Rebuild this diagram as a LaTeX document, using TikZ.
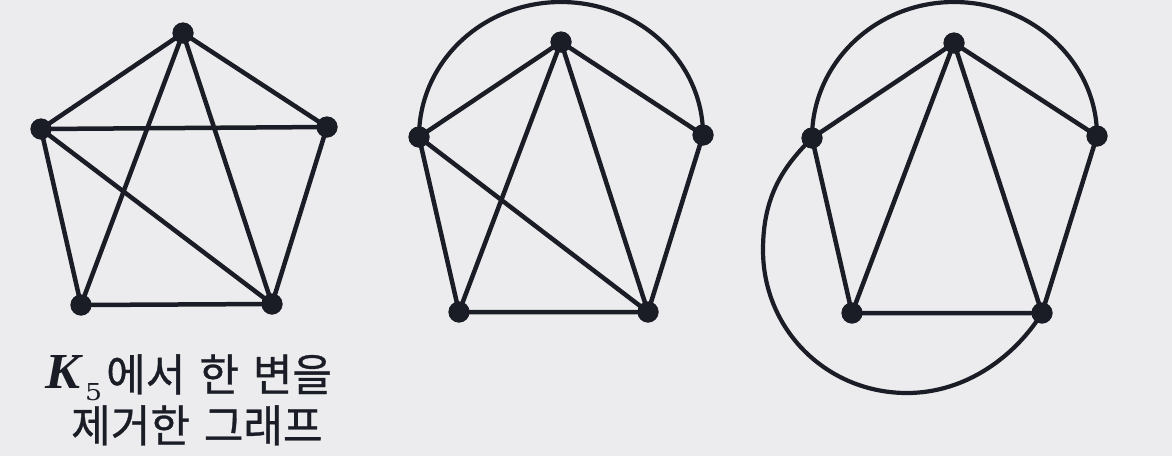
\documentclass[tikz,border=0pt]{standalone}
\usepackage{fontspec}
\setmainfont{Liberation Serif}
\newfontfamily\kr[FakeBold=0.7]{Noto Sans CJK KR}
\newfontfamily\dvs{DejaVu Serif}
\definecolor{bgcol}{HTML}{ECECEE}
\definecolor{ink}{HTML}{1B1D26}
\newcommand{\wsp}{\hspace{14pt}}
\begin{document}
\begin{tikzpicture}[x=1pt,y=-1pt,
  vtx/.style={circle,fill=ink,draw=none,minimum size=21pt,inner sep=0pt},
  edge/.style={draw=ink,line width=4.5pt,line cap=round},
  curve/.style={draw=ink,line width=4.2pt,line cap=round},
  lbl/.style={anchor=base west,inner sep=0pt,text=ink,text height=30pt,font=\kr\fontsize{43}{50}\selectfont}]
\fill[bgcol] (0,0) rectangle (1172,456);
\useasboundingbox (0,0) rectangle (1172,456);
% ---- graph 1 ----
\node[vtx] (t1) at (183,33) {};
\node[vtx] (l1) at (41,129) {};
\node[vtx] (r1) at (327,127) {};
\node[vtx] (a1) at (81,305) {};
\node[vtx] (b1) at (272,304) {};
\path[edge] (t1.center) -- (l1.center) (t1.center) -- (r1.center) (l1.center) -- (r1.center)
  (l1.center) -- (a1.center) (r1.center) -- (b1.center) (a1.center) -- (b1.center)
  (t1.center) -- (a1.center) (t1.center) -- (b1.center) (l1.center) -- (b1.center);
% ---- graph 2 ----
\node[vtx] (t2) at (561,42) {};
\node[vtx] (l2) at (419,137) {};
\node[vtx] (r2) at (703,135) {};
\node[vtx] (a2) at (459,312) {};
\node[vtx] (b2) at (648,312) {};
\coordinate (c2) at (561,2);
\path[edge] (t2.center) -- (l2.center) (t2.center) -- (r2.center)
  (l2.center) -- (a2.center) (r2.center) -- (b2.center) (a2.center) -- (b2.center)
  (t2.center) -- (a2.center) (t2.center) -- (b2.center) (l2.center) -- (b2.center);
\path[curve] (l2.center) .. controls (419,62) and (482.6,2) .. (c2)
  .. controls (639.4,2) and (703,62) .. (r2.center);
% ---- graph 3 ----
\node[vtx] (t3) at (954,43) {};
\node[vtx] (l3) at (812,138) {};
\node[vtx] (r3) at (1097,136) {};
\node[vtx] (a3) at (852,313) {};
\node[vtx] (b3) at (1042,313) {};
\coordinate (c3) at (954,2);
\coordinate (w3) at (763,250);
\coordinate (d3) at (907,393);
\path[edge] (t3.center) -- (l3.center) (t3.center) -- (r3.center)
  (l3.center) -- (a3.center) (r3.center) -- (b3.center) (a3.center) -- (b3.center)
  (t3.center) -- (a3.center) (t3.center) -- (b3.center);
\path[curve] (l3.center) .. controls (812,63) and (875.6,2) .. (c3)
  .. controls (1033.4,2) and (1097,63) .. (r3.center);
\path[curve] (l3.center) .. controls (784,166) and (763,195) .. (w3)
  .. controls (763,330) and (827,393) .. (d3)
  .. controls (967,393) and (1016,355) .. (b3.center);
% vertices on top
\foreach \v in {t1,l1,r1,a1,b1,t2,l2,r2,a2,b2,t3,l3,r3,a3,b3}
  \fill[ink] (\v.center) circle[radius=10.5pt];
% ---- label ----
\node[anchor=base west,inner sep=0pt,text=ink] (kK) at (45,388)
  {\resizebox{35pt}{33pt}{\bfseries\itshape K}};
\node[anchor=base west,inner sep=0pt,text=ink] (k5) at (85,400)
  {\resizebox{17pt}{17pt}{\dvs 5}};
\node[lbl] (k1) at (106,391) {\scalebox{1}[1.03]{에서\wsp 한\wsp 변을}};
\node[lbl] (k2) at (71,442) {\scalebox{1}[1.03]{제거한\wsp 그래프}};
\end{tikzpicture}
\end{document}
